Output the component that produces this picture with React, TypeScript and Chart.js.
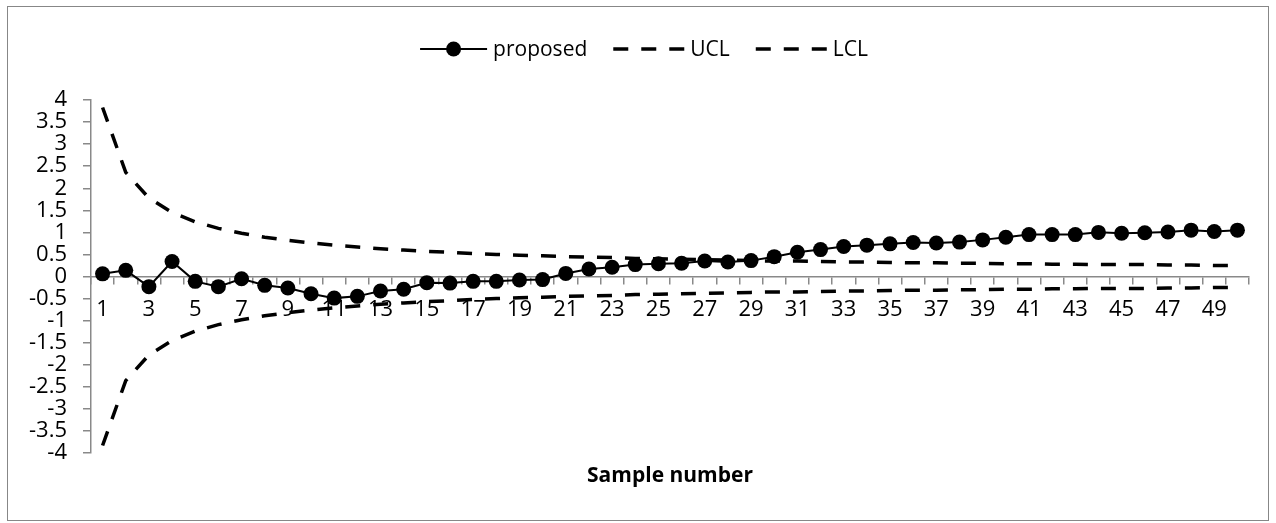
import React, { useEffect, useRef } from "react";
import { Chart, registerables } from "chart.js";

Chart.register(...registerables);

const sampleNumbers = [
  "1", "2", "3", "4", "5", "6", "7", "8", "9", "10",
  "11", "12", "13", "14", "15", "16", "17", "18", "19", "20",
  "21", "22", "23", "24", "25", "26", "27", "28", "29", "30",
  "31", "32", "33", "34", "35", "36", "37", "38", "39", "40",
  "41", "42", "43", "44", "45", "46", "47", "48", "49", "50",
];

const proposed = [
  0.06, 0.14, -0.23, 0.34, -0.11, -0.23, -0.05, -0.2, -0.26, -0.39,
  -0.49, -0.45, -0.33, -0.29, -0.14, -0.15, -0.11, -0.11, -0.08, -0.07,
  0.07, 0.17, 0.21, 0.27, 0.29, 0.3, 0.35, 0.33, 0.36, 0.45,
  0.55, 0.61, 0.68, 0.71, 0.74, 0.77, 0.76, 0.78, 0.83, 0.89,
  0.95, 0.95, 0.95, 1.0, 0.98, 0.99, 1.01, 1.05, 1.02, 1.05,
];

const ucl = [
  3.83, 2.36, 1.78, 1.45, 1.24, 1.09, 0.98, 0.89, 0.82, 0.76,
  0.71, 0.67, 0.63, 0.6, 0.57, 0.55, 0.52, 0.5, 0.48, 0.47,
  0.45, 0.44, 0.43, 0.41, 0.4, 0.39, 0.38, 0.37, 0.36, 0.35,
  0.35, 0.34, 0.33, 0.33, 0.32, 0.31, 0.31, 0.3, 0.3, 0.29,
  0.29, 0.28, 0.28, 0.27, 0.27, 0.27, 0.26, 0.26, 0.25, 0.25,
];

const lcl = [
  -3.83, -2.36, -1.78, -1.45, -1.24, -1.09, -0.98, -0.89, -0.82, -0.76,
  -0.71, -0.67, -0.63, -0.6, -0.57, -0.55, -0.52, -0.5, -0.48, -0.47,
  -0.45, -0.44, -0.43, -0.41, -0.4, -0.39, -0.38, -0.37, -0.36, -0.35,
  -0.35, -0.34, -0.33, -0.33, -0.32, -0.31, -0.31, -0.3, -0.3, -0.29,
  -0.29, -0.28, -0.28, -0.27, -0.27, -0.27, -0.26, -0.26, -0.25, -0.25,
];

const yTickValues = [
  -4, -3.5, -3, -2.5, -2, -1.5, -1, -0.5, 0, 0.5, 1, 1.5, 2, 2.5, 3, 3.5, 4,
];
const yTickLabels = [
  "-4", "-3.5", "-3", "-2.5", "-2", "-1.5", "-1", "-0.5", "0",
  "0.5", "1", "1.5", "2", "2.5", "3", "3.5", "4",
];

const seriesNames = ["proposed", "UCL", "LCL"];
const xAxisTitle = "Sample number";

const FONT = '"Open Sans", "DejaVu Sans", sans-serif';
const AXIS_GRAY = "#898989";

const legendPlugin = {
  id: "customLegend",
  afterDraw(chart: any) {
    const ctx = chart.ctx as CanvasRenderingContext2D;
    ctx.save();
    ctx.font = `21px ${FONT}`;
    const gapText = 6;
    const gapItem = 26;
    const items = chart.data.datasets.map((ds: any, i: number) => {
      const symW = ds.pointRadius > 0 ? 67 : 71;
      const tw = ctx.measureText(seriesNames[i]).width;
      return { ds, symW, tw, name: seriesNames[i] };
    });
    const total =
      items.reduce((a: number, it: any) => a + it.symW + gapText + it.tw, 0) +
      gapItem * (items.length - 1);
    let x = chart.width / 2 + 6 - total / 2;
    const y = 41;
    items.forEach((it: any) => {
      ctx.strokeStyle = "#000";
      ctx.fillStyle = "#000";
      ctx.lineWidth = it.ds.borderWidth;
      ctx.setLineDash(it.ds.borderDash || []);
      ctx.beginPath();
      ctx.moveTo(x, y);
      ctx.lineTo(x + it.symW, y);
      ctx.stroke();
      ctx.setLineDash([]);
      if (it.ds.pointRadius > 0) {
        ctx.beginPath();
        ctx.arc(x + it.symW / 2, y, it.ds.pointRadius, 0, Math.PI * 2);
        ctx.fill();
      }
      ctx.textBaseline = "middle";
      ctx.textAlign = "left";
      ctx.fillText(it.name, x + it.symW + gapText, y + 1);
      x += it.symW + gapText + it.tw + gapItem;
    });
    ctx.restore();
  },
};

const titlePlugin = {
  id: "xTitle",
  afterDraw(chart: any) {
    const ctx = chart.ctx as CanvasRenderingContext2D;
    const area = chart.chartArea;
    ctx.save();
    ctx.font = `bold 21px ${FONT}`;
    ctx.fillStyle = "#000";
    ctx.textAlign = "center";
    ctx.textBaseline = "middle";
    ctx.fillText(xAxisTitle, (area.left + area.right) / 2, area.bottom + 23);
    ctx.restore();
  },
};

export default function App() {
  const ref = useRef<HTMLCanvasElement | null>(null);

  useEffect(() => {
    if (!ref.current) return;
    const chart = new Chart(ref.current, {
      type: "line",
      data: {
        labels: sampleNumbers,
        datasets: [
          {
            label: seriesNames[0],
            data: proposed,
            borderColor: "#000",
            backgroundColor: "#000",
            borderWidth: 2,
            pointRadius: 7.5,
            pointBackgroundColor: "#000",
            pointBorderColor: "#000",
            pointBorderWidth: 0,
            tension: 0,
          },
          {
            label: seriesNames[1],
            data: ucl,
            borderColor: "#000",
            borderWidth: 3.5,
            borderDash: [15, 13],
            pointRadius: 0,
            tension: 0,
          },
          {
            label: seriesNames[2],
            data: lcl,
            borderColor: "#000",
            borderWidth: 3.5,
            borderDash: [15, 13],
            pointRadius: 0,
            tension: 0,
          },
        ] as any,
      },
      options: {
        animation: false,
        responsive: false,
        devicePixelRatio: 1,
        layout: { padding: { left: 0, right: 19, top: 92, bottom: 68 } },
        plugins: {
          legend: { display: false },
          tooltip: { enabled: false },
          title: { display: false },
        },
        scales: {
          x: {
            type: "category",
            position: { y: 0 } as any,
            offset: true,
            grid: {
              display: true,
              drawOnChartArea: false,
              drawTicks: true,
              tickLength: 7,
              color: AXIS_GRAY,
              lineWidth: 1.5,
              offset: true,
            },
            border: { display: true, color: AXIS_GRAY, width: 1.5 },
            ticks: {
              autoSkip: false,
              maxRotation: 0,
              minRotation: 0,
              padding: 13,
              color: "#000",
              font: { family: FONT, size: 22 },
              callback: (_v: any, i: number) =>
                i % 2 === 0 ? sampleNumbers[i] : "",
            },
          },
          y: {
            type: "linear",
            position: "left",
            min: -4,
            max: 4,
            afterFit: (scale: any) => {
              scale.width = 83;
            },
            afterBuildTicks: (scale: any) => {
              scale.ticks = yTickValues.map((v) => ({ value: v }));
            },
            grid: {
              display: true,
              drawOnChartArea: false,
              drawTicks: true,
              tickLength: 8,
              color: AXIS_GRAY,
              lineWidth: 1.5,
            },
            border: { display: true, color: AXIS_GRAY, width: 1.5 },
            ticks: {
              autoSkip: false,
              padding: 16,
              color: "#000",
              font: { family: FONT, size: 22, lineHeight: 1.0 },
              callback: (v: any) => {
                const idx = yTickValues.indexOf(Number(v));
                return idx >= 0 ? yTickLabels[idx] : "";
              },
            },
          },
        },
      },
      plugins: [legendPlugin, titlePlugin],
    });
    return () => chart.destroy();
  }, []);

  return (
    <div
      style={{
        position: "absolute",
        left: 7,
        top: 6,
        width: 1260,
        height: 513,
        border: "1px solid #878787",
        background: "#fff",
      }}
    >
      <canvas
        ref={ref}
        width={1260}
        height={513}
        style={{ display: "block", position: "absolute", left: 0, top: 1 }}
      />
    </div>
  );
}
